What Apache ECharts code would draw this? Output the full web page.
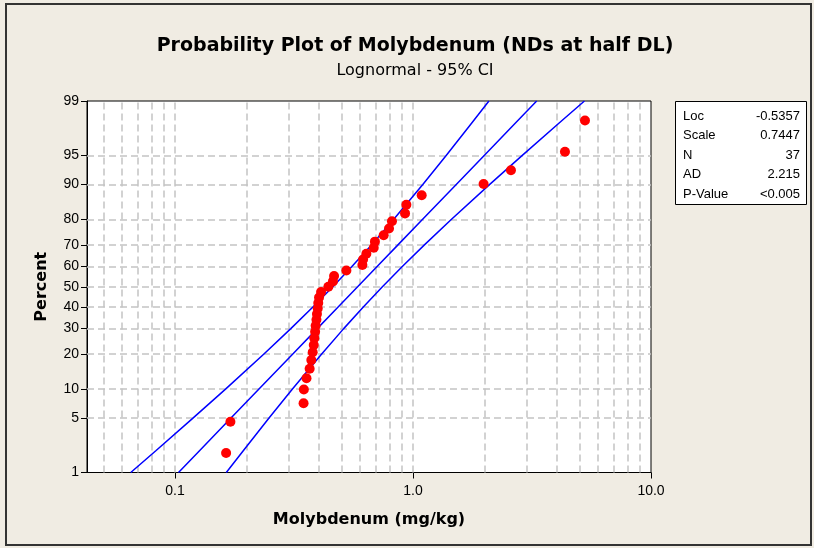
<!DOCTYPE html>
<html><head><meta charset="utf-8">
<script src="https://cdn.jsdelivr.net/npm/echarts@6/dist/echarts.min.js"></script>
<style>html,body{margin:0;padding:0;background:#F0ECE3}#c{width:814px;height:548px}</style>
</head><body><div id="c"></div>
<script>
// ---- data ----
const percentTicks = [1, 5, 10, 20, 30, 40, 50, 60, 70, 80, 90, 95, 99];
const xTickValues = [0.1, 1, 10];
const xTickLabels = ['0.1', '1.0', '10.0'];
const xGridValues = [0.05, 0.06, 0.07, 0.08, 0.09, 0.1, 0.2, 0.3, 0.4, 0.5, 0.6, 0.7, 0.8, 0.9, 1, 2, 3, 4, 5, 6, 7, 8, 9];
const yGridPercents = [5, 10, 20, 30, 40, 50, 60, 70, 80, 90, 95];
const pointPercent = [1.87, 4.55, 7.22, 9.89, 12.57, 15.24, 17.91, 20.59, 23.26, 25.94, 28.61, 31.28, 33.96, 36.63, 39.30, 41.98, 44.65, 47.33, 50.00, 52.67, 55.35, 58.02, 60.70, 63.37, 66.04, 68.72, 71.39, 74.06, 76.74, 79.41, 82.09, 84.76, 87.43, 90.11, 92.78, 95.45, 98.13];
const pointValue = [0.164, 0.171, 0.347, 0.348, 0.357, 0.368, 0.374, 0.379, 0.383, 0.385, 0.388, 0.390, 0.393, 0.395, 0.398, 0.400, 0.403, 0.411, 0.441, 0.461, 0.466, 0.525, 0.613, 0.617, 0.637, 0.684, 0.692, 0.753, 0.793, 0.816, 0.926, 0.938, 1.088, 1.98, 2.58, 4.35, 5.28];
const linePercent = [1, 2, 5, 10, 20, 30, 40, 50, 60, 70, 80, 90, 95, 98, 99];
const fitLine = [0.1035, 0.1268, 0.1719, 0.2254, 0.3127, 0.3961, 0.4847, 0.5853, 0.7067, 0.8648, 1.0953, 1.520, 1.992, 2.701, 3.309];
const ciLower = [0.0652, 0.0831, 0.1190, 0.1631, 0.2365, 0.3067, 0.3798, 0.4604, 0.5538, 0.6695, 0.8285, 1.0996, 1.3787, 1.7693, 2.0852];
const ciUpper = [0.1643, 0.1936, 0.2484, 0.3116, 0.4134, 0.5116, 0.6185, 0.7440, 0.9018, 1.1170, 1.4481, 2.1013, 2.8788, 4.1239, 5.2522];
const statLabels = ['Loc', 'Scale', 'N', 'AD', 'P-Value'];
const statValues = ['-0.5357', '0.7447', '37', '2.215', '<0.005'];
const xMin = 0.0427, xMax = 10;

// ---- probability scale (normal quantile) ----
function probit(p) {
  const a=[-3.969683028665376e+01,2.209460984245205e+02,-2.759285104469687e+02,1.383577518672690e+02,-3.066479806614716e+01,2.506628277459239e+00];
  const b=[-5.447609879822406e+01,1.615858368580409e+02,-1.556989798598866e+02,6.680131188771984e+01,-1.328068155288572e+01];
  const c=[-7.784894002430293e-03,-3.223964580411365e-01,-2.400758277161838e+00,-2.549732539343734e+00,4.374664141464968e+00,2.938163982698783e+00];
  const d=[7.784695709041462e-03,3.224671290700398e-01,2.445134137142996e+00,3.754408661907416e+00];
  const pl=0.02425, ph=1-pl; let q,r;
  if (p < pl) { q=Math.sqrt(-2*Math.log(p)); return (((((c[0]*q+c[1])*q+c[2])*q+c[3])*q+c[4])*q+c[5])/((((d[0]*q+d[1])*q+d[2])*q+d[3])*q+1); }
  if (p > ph) { q=Math.sqrt(-2*Math.log(1-p)); return -(((((c[0]*q+c[1])*q+c[2])*q+c[3])*q+c[4])*q+c[5])/((((d[0]*q+d[1])*q+d[2])*q+d[3])*q+1); }
  q=p-0.5; r=q*q;
  return (((((a[0]*r+a[1])*r+a[2])*r+a[3])*r+a[4])*r+a[5])*q/(((((b[0]*r+b[1])*r+b[2])*r+b[3])*r+b[4])*r+1);
}
const zOf = pct => probit(pct / 100);
const zTicks = percentTicks.map(zOf);
const yLabel = v => { const i = zTicks.findIndex(t => Math.abs(t - v) < 1e-6); return i >= 0 ? String(percentTicks[i]) : ''; };
const xLabel = v => { const i = xTickValues.findIndex(t => Math.abs(t - v) / t < 1e-6); return i >= 0 ? xTickLabels[i] : ''; };

const FONT = 'Liberation Sans';
const BOLDFONT = 'DejaVu Sans';
const lineSeries = (arr) => ({
  type: 'line', data: arr.map((v, i) => [v, zOf(linePercent[i])]), showSymbol: false, symbol: 'none',
  lineStyle: { color: '#0000FF', width: 1.5 }, z: 3, silent: true, animation: false
});

const chart = echarts.init(document.getElementById('c'));
chart.setOption({
  backgroundColor: '#F0ECE3',
  animation: false,
  grid: { left: 87, right: 163, top: 101, bottom: 75.5, show: true, backgroundColor: '#FFFFFF', borderColor: '#000000', borderWidth: 1 },
  xAxis: {
    type: 'log', logBase: 10, min: xMin, max: xMax,
    name: 'Molybdenum (mg/kg)', nameLocation: 'middle', nameGap: 39,
    nameTextStyle: { fontFamily: BOLDFONT, fontWeight: 'bold', fontSize: 16, color: '#000' },
    axisLine: { show: true, onZero: false, lineStyle: { color: '#000', width: 1 } },
    axisTick: { show: true, inside: false, length: 6, customValues: xTickValues, lineStyle: { color: '#000' } },
    axisLabel: { customValues: xTickValues, formatter: xLabel, margin: 12, fontFamily: FONT, fontSize: 14, color: '#000' },
    splitLine: { show: false }, minorTick: { show: false }, minorSplitLine: { show: false }
  },
  yAxis: {
    type: 'value', min: zTicks[0], max: zTicks[zTicks.length - 1],
    name: 'Percent', nameLocation: 'middle', nameGap: 37, nameRotate: 90,
    nameTextStyle: { fontFamily: BOLDFONT, fontWeight: 'bold', fontSize: 16, color: '#000' },
    axisLine: { show: true, onZero: false, lineStyle: { color: '#000', width: 1 } },
    axisTick: { show: true, inside: false, length: 6, customValues: zTicks, lineStyle: { color: '#000' } },
    axisLabel: { customValues: zTicks, formatter: yLabel, margin: 8, fontFamily: FONT, fontSize: 14, color: '#000' },
    splitLine: { show: false }
  },
  series: [
    {
      type: 'line', data: [], z: 1, silent: true,
      markLine: {
        z: 1, silent: true, symbol: 'none', animation: false,
        label: { show: false },
        lineStyle: { type: [7, 4], color: '#C4C4C4', width: 1.5 },
        emphasis: { disabled: true },
        data: xGridValues.map(v => ({ xAxis: v })).concat(yGridPercents.map(p => ({ yAxis: zOf(p) })))
      }
    },
    lineSeries(ciLower),
    lineSeries(fitLine),
    lineSeries(ciUpper),
    {
      type: 'scatter', data: pointValue.map((v, i) => [v, zOf(pointPercent[i])]),
      symbol: 'circle', symbolSize: 10, itemStyle: { color: '#FF0000', opacity: 1, borderWidth: 0 }, z: 10, silent: true
    }
  ],
  graphic: [
    { type: 'rect', shape: { x: 6, y: 4, width: 805, height: 541 }, style: { fill: 'none', stroke: '#333', lineWidth: 2 }, z: -1, silent: true },
    { type: 'text', x: 415, y: 46, style: { text: 'Probability Plot of Molybdenum (NDs at half DL)', font: 'bold 19px "DejaVu Sans"', fill: '#000', align: 'center', verticalAlign: 'middle' } },
    { type: 'text', x: 415, y: 71, style: { text: 'Lognormal - 95% CI', font: '16px "DejaVu Sans"', fill: '#000', align: 'center', verticalAlign: 'middle' } },
    { type: 'rect', shape: { x: 675.5, y: 101.5, width: 131, height: 103 }, style: { fill: '#FFFFFF', stroke: '#000', lineWidth: 1 }, silent: true },
    ...statLabels.map((t, i) => ({ type: 'text', x: 683, y: 116 + i * 19.5, style: { text: t, font: '13px "Liberation Sans"', fill: '#000', align: 'left', verticalAlign: 'middle' } })),
    ...statValues.map((t, i) => ({ type: 'text', x: 800, y: 116 + i * 19.5, style: { text: t, font: '13px "Liberation Sans"', fill: '#000', align: 'right', verticalAlign: 'middle' } }))
  ]
});
</script></body></html>
